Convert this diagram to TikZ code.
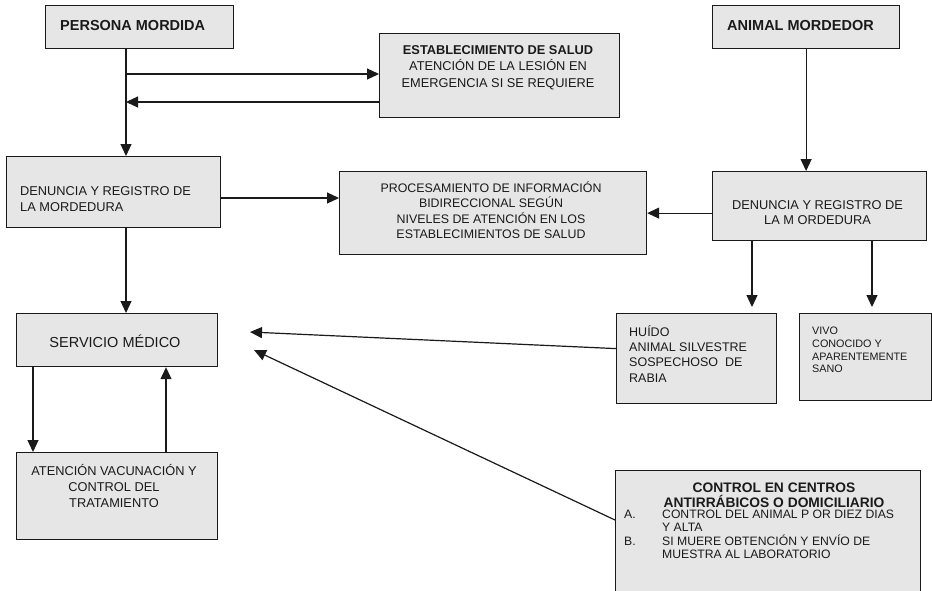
\documentclass[tikz,border=0pt]{standalone}
\usepackage{fontspec}
\setmainfont{Liberation Sans}
\usetikzlibrary{arrows.meta}
\definecolor{boxfill}{HTML}{E6E6E6}
\definecolor{ink}{HTML}{1A1A1A}
\tikzset{
  box/.style={draw=ink, fill=boxfill, line width=1.2pt, anchor=north west, inner sep=0pt},
  txt/.style={inner sep=0pt, text=ink},
  arr/.style={draw=ink, line width=1.2pt, -{Triangle[length=12pt,width=11pt]}},
}
\newcommand{\fs}[2]{\fontsize{#1}{#2}\selectfont}
\begin{document}
\begin{tikzpicture}[x=1pt,y=-1pt]
\clip (0,0) rectangle (932,590);
\fill[white] (0,0) rectangle (932,590);
% boxes
\node[box, minimum width=188pt, minimum height=43pt] (pm) at (45,5) {};
\node[box, minimum width=240pt, minimum height=84pt] (es) at (379,33) {};
\node[box, minimum width=187pt, minimum height=43pt] (am) at (712,5) {};
\node[box, minimum width=214pt, minimum height=71pt] (dl) at (6,156) {};
\node[box, minimum width=307pt, minimum height=83pt] (pr) at (339,171) {};
\node[box, minimum width=214pt, minimum height=69pt] (dr) at (712,171) {};
\node[box, minimum width=160pt, minimum height=90pt] (hu) at (616,313) {};
\node[box, minimum width=132pt, minimum height=87pt] (vi) at (799,313) {};
\node[box, minimum width=201pt, minimum height=53pt] (sm) at (16,313) {};
\node[box, minimum width=201pt, minimum height=87pt] (at) at (16,452) {};
\node[box, minimum width=305pt, minimum height=130pt] (co) at (615,470) {};
% texts (base anchor = baseline of the last line)
\node[txt, anchor=base west, font=\fs{14.5}{17}\bfseries] (pmt) at (60,30) {PERSONA MORDIDA};
\node[txt, anchor=base west, font=\fs{14.5}{17}\bfseries] (amt) at (727,30) {ANIMAL MORDEDOR};
\node[txt, anchor=base, font=\fs{12.8}{16.5}, align=center] (est) at (498,87)
  {\textbf{ESTABLECIMIENTO DE SALUD}\\ATENCIÓN DE LA LESIÓN EN\\EMERGENCIA SI SE REQUIERE};
\node[txt, anchor=base west, font=\fs{12.8}{16}, align=left] (dlt) at (20,211)
  {DENUNCIA Y REGISTRO DE\\LA MORDEDURA};
\node[txt, anchor=base, font=\fs{12.4}{15.4}, align=center] (prt) at (491,238.7)
  {PROCESAMIENTO DE INFORMACIÓN\\BIDIRECCIONAL SEGÚN\\NIVELES DE ATENCIÓN EN LOS\\ESTABLECIMIENTOS DE SALUD};
\node[txt, anchor=base, font=\fs{12.8}{15}, align=center] (drt) at (817.5,224)
  {DENUNCIA Y REGISTRO DE\\LA M ORDEDURA};
\node[txt, anchor=base west, font=\fs{12.5}{15.3}, align=left] (hut) at (629,382)
  {HUÍDO\\ANIMAL SILVESTRE\\SOSPECHOSO~ DE\\RABIA};
\node[txt, anchor=base west, font=\fs{10.8}{12.7}, align=left] (vit) at (812,372.8)
  {VIVO\\CONOCIDO Y\\APARENTEMENTE\\SANO};
\node[txt, anchor=base, font=\fs{14.5}{17}] (smt) at (115,347) {SERVICIO MÉDICO};
\node[txt, anchor=base, font=\fs{12.8}{16}, align=center] (att) at (114,507)
  {ATENCIÓN VACUNACIÓN Y\\CONTROL DEL\\TRATAMIENTO};
\node[txt, anchor=base, font=\fs{13.8}{15}\bfseries, align=center] (cot) at (774,507)
  {CONTROL EN CENTROS\\ANTIRRÁBICOS O DOMICILIARIO};
\node[txt, anchor=base west, font=\fs{12.2}{13.5}, align=left] (col) at (624,558.5)
  {\makebox[38pt][l]{A.}CONTROL DEL ANIMAL P OR DIEZ DIAS\\
   \hspace*{38pt}Y ALTA\\
   \makebox[38pt][l]{B.}SI MUERE OBTENCIÓN Y ENVÍO DE\\
   \hspace*{38pt}MUESTRA AL LABORATORIO};
% helper coordinates
\coordinate (j1) at (126,74);
\coordinate (j2) at (126,102);
\coordinate (j3) at (0,198);
\coordinate (j4) at (752,307);
\coordinate (j5) at (872,307);
\coordinate (j6) at (0,520);
\coordinate (j7) at (33,0);
\coordinate (j8) at (166,0);
\coordinate (t1) at (250,332);
\coordinate (t2) at (254,350);
% connectors
\draw[arr] (pm.south -| j1) -- (dl.north -| j1);
\draw[arr] (j1) -- (j1 -| es.west);
\draw[arr] (j2 -| es.west) -- (j2);
\draw[arr] (dl.east |- j3) -- (pr.west |- j3);
\draw[arr] (am.south) -- (am.south |- dr.north);
\draw[arr] (dr.west |- pr.west) -- (pr.east);
\draw[arr] (dl.south -| j1) -- (sm.north -| j1);
\draw[arr] (dr.south -| j4) -- (j4);
\draw[arr] (dr.south -| j5) -- (j5);
\draw[arr] ([yshift=10pt]hu.west) -- (t1);
\draw[arr] (co.west |- j6) -- (t2);
\draw[arr] (sm.south -| j7) -- (at.north -| j7);
\draw[arr] (at.north -| j8) -- (sm.south -| j8);
\end{tikzpicture}
\end{document}
